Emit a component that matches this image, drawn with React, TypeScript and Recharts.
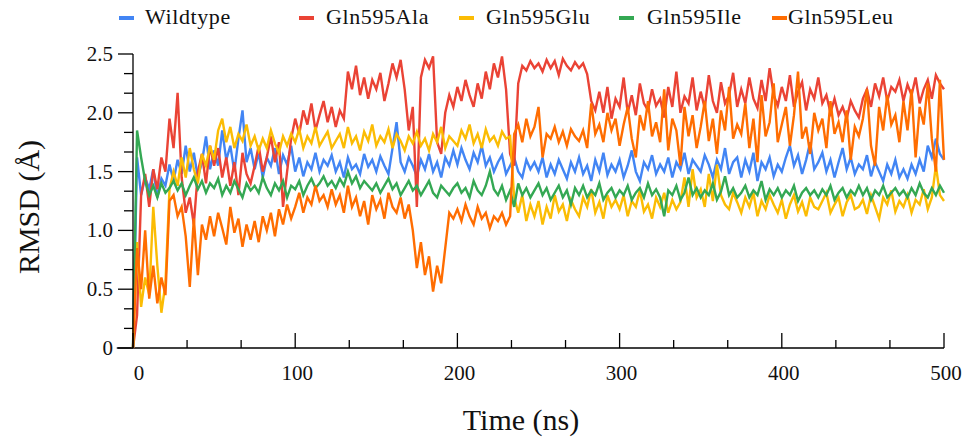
import { LineChart, Line, XAxis, YAxis, Legend, ReferenceLine, Label } from "recharts";

// RMSD (Å) sampled every 2.5 ns, 0–500 ns
const STEP = 2.5;

const wildtype = [
  0, 1.62, 1.3, 1.45, 1.35, 1.52, 1.28, 1.44, 1.38, 1.56,
  1.42, 1.6, 1.48, 1.72, 1.5, 1.66, 1.45, 1.58, 1.8, 1.52,
  1.68, 1.55, 1.85, 1.6, 1.72, 1.5, 1.78, 2.02, 1.58, 1.7,
  1.52, 1.66, 1.45, 1.62, 1.55, 1.7, 1.48, 1.64, 1.56, 1.72,
  1.5, 1.62, 1.46, 1.58, 1.52, 1.66, 1.5, 1.6, 1.55, 1.64,
  1.5, 1.58, 1.45, 1.62, 1.52, 1.56, 1.48, 1.65, 1.54, 1.6,
  1.5, 1.63, 1.55, 1.48, 1.7, 1.92, 1.58, 1.5, 1.62, 1.55,
  1.46, 1.6, 1.52, 1.65, 1.5, 1.58, 1.45, 1.62, 1.55, 1.68,
  1.56, 1.7, 1.6, 1.52, 1.66, 1.58, 1.72, 1.55, 1.62, 1.5,
  1.58, 1.64, 1.48, 1.55, 1.62, 1.5, 1.45, 1.6, 1.52, 1.58,
  1.5, 1.62, 1.45, 1.56, 1.48, 1.6, 1.52, 1.44, 1.58, 1.5,
  1.62, 1.48, 1.55, 1.42, 1.6, 1.5, 1.66, 1.47, 1.56, 1.5,
  1.6, 1.45, 1.55, 1.68, 1.5, 1.42, 1.58, 1.52, 1.64, 1.48,
  1.56, 1.5, 1.62, 1.45, 1.58, 1.52, 1.66, 1.48, 1.6, 1.55,
  1.5, 1.64, 1.56, 1.45, 1.6, 1.52, 1.7, 1.48, 1.58, 1.62,
  1.45, 1.6, 1.5, 1.66, 1.42, 1.58, 1.52, 1.62, 1.46, 1.56,
  1.5, 1.62, 1.72, 1.55, 1.64, 1.48, 1.6, 1.75, 1.52, 1.58,
  1.66, 1.5, 1.6, 1.45, 1.58, 1.7, 1.52, 1.62, 1.48, 1.56,
  1.52, 1.64, 1.46, 1.58, 1.5, 1.42, 1.56, 1.48, 1.6, 1.45,
  1.52, 1.44, 1.56, 1.48, 1.6, 1.5, 1.72, 1.62, 1.78, 1.65,
  1.6,
];

const gln595Ala = [
  0, 0.28, 1.3, 1.48, 1.2, 1.52, 1.35, 1.62, 1.5, 1.95,
  1.7, 2.17, 1.45, 1.15, 1.28, 1.05, 1.5, 1.65, 1.4, 1.72,
  1.55, 1.7, 1.45, 1.62, 1.38, 1.58, 1.3, 1.66, 1.48, 1.4,
  1.55, 1.72, 1.5, 1.62, 1.8, 1.58, 1.75, 1.2, 1.5, 1.78,
  1.95, 1.82, 2.02, 1.9, 2.08, 1.85, 1.98, 2.1, 1.92, 2.05,
  1.88, 2.02, 1.95, 2.35, 2.2, 2.4, 2.15, 2.3, 2.12, 2.28,
  2.2, 2.34, 2.1, 2.25, 2.42, 2.3, 2.45, 2.2, 1.85, 2.05,
  1.2, 2.3, 2.45, 2.38, 2.48, 1.75, 1.65, 2.0, 2.15, 2.05,
  2.22, 2.1, 2.28, 2.15, 2.05, 2.25, 2.12, 2.35, 2.2, 2.42,
  2.3, 2.48, 2.2, 1.65, 1.55, 2.25, 2.4, 2.36, 2.44, 2.38,
  2.42, 2.35, 2.45, 2.38, 2.44, 2.32, 2.46, 2.4, 2.36, 2.43,
  2.38, 2.42, 2.33, 2.1, 2.02, 2.18, 2.0, 2.22, 1.95, 2.12,
  2.05, 2.3, 2.0, 2.15, 1.98, 2.25, 2.08, 2.02, 2.2, 2.06,
  2.12, 1.96, 2.22, 2.05, 2.35, 2.0, 2.14, 2.08, 2.3, 2.02,
  2.18, 2.04, 2.32, 2.1, 2.0, 2.26, 2.08, 2.15, 2.34, 2.05,
  2.2, 2.08, 2.3, 2.12, 2.04, 2.28, 2.1, 2.38, 2.15, 2.06,
  2.22, 2.1, 2.32, 2.05, 2.18, 2.26, 2.02, 2.2, 2.12, 2.3,
  2.08, 2.15, 2.0, 2.12, 1.98, 2.05, 1.95, 2.1, 2.02, 1.96,
  2.12, 2.2, 2.05, 2.25, 2.14, 2.3, 2.1, 2.22, 2.18, 2.28,
  2.1, 2.24, 2.15, 2.3, 2.08, 2.2, 2.28, 2.12, 2.32, 2.25,
  2.2,
];

const gln595Glu = [
  0, 0.9, 0.35, 0.6, 0.45, 1.2, 0.7, 0.3, 0.55, 1.35,
  1.5, 1.38, 1.62, 1.45, 1.7, 1.52, 1.4, 1.65, 1.55, 1.72,
  1.6, 1.85, 1.95, 1.75, 1.88, 1.7, 1.82, 1.76, 1.9, 1.72,
  1.8, 1.68, 1.78, 1.7, 1.85, 1.74, 1.66, 1.8, 1.72, 1.82,
  1.75, 1.86, 1.7, 1.8, 1.74, 1.88, 1.72, 1.78, 1.84, 1.7,
  1.76, 1.82, 1.7, 1.88, 1.74, 1.8, 1.68, 1.84, 1.76, 1.9,
  1.72, 1.8, 1.75, 1.86, 1.7, 1.82, 1.76, 1.68, 1.8, 1.74,
  1.84, 1.72, 1.78, 1.68, 1.82, 1.75, 1.88, 1.7, 1.8, 1.76,
  1.72, 1.85, 1.78, 1.9, 1.74, 1.82, 1.7, 1.86, 1.76, 1.8,
  1.72, 1.84, 1.78, 1.8, 1.28, 1.15, 1.3, 1.08, 1.22, 1.12,
  1.25, 1.05, 1.2, 1.1, 1.3, 1.16, 1.22, 1.08, 1.26, 1.18,
  1.12, 1.28, 1.2, 1.35, 1.15, 1.24, 1.1, 1.3, 1.2, 1.26,
  1.18, 1.3, 1.12, 1.25, 1.2, 1.34, 1.16, 1.22, 1.1, 1.28,
  1.2, 1.32, 1.15, 1.26, 1.18, 1.24, 1.45, 1.2, 1.52, 1.28,
  1.35, 1.2, 1.48, 1.25, 1.56, 1.3, 1.22, 1.18, 1.32, 1.24,
  1.15, 1.28, 1.2, 1.32, 1.12, 1.25, 1.18, 1.3, 1.22, 1.15,
  1.26, 1.1, 1.22, 1.3, 1.16, 1.24, 1.12, 1.28, 1.2, 1.18,
  1.25, 1.32, 1.15, 1.22, 1.28, 1.12, 1.24, 1.3, 1.18, 1.2,
  1.26, 1.14, 1.3, 1.2, 1.1, 1.28, 1.22, 1.34, 1.16, 1.25,
  1.2, 1.3, 1.15, 1.26, 1.22, 1.35, 1.18, 1.28, 1.55, 1.3,
  1.25,
];

const gln595Ile = [
  0, 1.85, 1.62, 1.42, 1.3, 1.38, 1.28, 1.4, 1.32, 1.36,
  1.42, 1.34, 1.4, 1.3, 1.38, 1.45, 1.35, 1.42, 1.32, 1.4,
  1.36, 1.44, 1.3, 1.38, 1.32, 1.42, 1.35, 1.28, 1.4, 1.34,
  1.38, 1.32, 1.45, 1.36, 1.3, 1.4, 1.34, 1.42, 1.28, 1.38,
  1.35, 1.42, 1.3, 1.38, 1.44, 1.36, 1.4, 1.46, 1.38, 1.42,
  1.36, 1.44, 1.38, 1.5, 1.4, 1.46, 1.36, 1.42, 1.38, 1.34,
  1.4, 1.32, 1.38, 1.44, 1.35, 1.4, 1.3, 1.36, 1.42, 1.34,
  1.38, 1.3, 1.36, 1.42, 1.32, 1.28, 1.38, 1.34, 1.3, 1.36,
  1.4, 1.32, 1.36, 1.28, 1.42, 1.34, 1.3, 1.38, 1.5, 1.35,
  1.3, 1.38, 1.26, 1.34, 1.2, 1.4, 1.3, 1.36, 1.28, 1.34,
  1.4, 1.3, 1.36, 1.26, 1.32, 1.38, 1.28, 1.34, 1.22, 1.36,
  1.3, 1.38, 1.28, 1.34, 1.3, 1.4, 1.26, 1.32, 1.36, 1.28,
  1.34, 1.3, 1.38, 1.26, 1.32, 1.36, 1.28, 1.4, 1.3, 1.35,
  1.28, 1.12, 1.34, 1.3, 1.38, 1.26, 1.32, 1.45, 1.3, 1.36,
  1.28, 1.34, 1.3, 1.4, 1.26, 1.33, 1.46, 1.3, 1.36, 1.28,
  1.32, 1.38, 1.28, 1.34, 1.3, 1.42, 1.26, 1.35, 1.3, 1.36,
  1.28, 1.34, 1.3, 1.38, 1.25, 1.32, 1.36, 1.3, 1.34, 1.28,
  1.35, 1.3, 1.38, 1.26, 1.32, 1.36, 1.28, 1.34, 1.3, 1.38,
  1.3, 1.36, 1.26, 1.34, 1.3, 1.38, 1.28, 1.32, 1.36, 1.3,
  1.34, 1.28, 1.36, 1.3, 1.4, 1.32, 1.28, 1.36, 1.3, 1.38,
  1.32,
];

const gln595Leu = [
  0, 0.85, 0.5, 1.0, 0.42, 0.7, 0.38, 0.6, 0.45, 1.25,
  1.3, 1.12, 1.2, 0.95, 0.52, 1.1, 0.62, 1.05, 0.92, 1.12,
  0.95, 1.15, 1.02, 0.88, 1.2, 0.98, 1.1, 0.86, 1.05, 0.92,
  1.08, 0.9, 1.12, 1.0, 1.15, 0.95, 1.18, 1.05, 1.22, 1.1,
  1.2, 1.32, 1.15, 1.28, 1.22, 1.38, 1.25, 1.3, 1.2, 1.35,
  1.22, 1.3, 1.15, 1.38, 1.2, 1.28, 1.12, 1.25, 1.05, 1.3,
  1.18, 1.26, 1.1, 1.32, 1.2, 1.15, 1.28, 1.1, 1.22, 1.0,
  0.68, 0.9, 0.62, 0.78, 0.48, 0.7, 0.55, 0.85, 1.15, 1.1,
  1.18, 1.08, 1.22, 1.12, 1.05, 1.2, 1.1, 1.15, 1.02, 1.12,
  1.08, 1.15, 1.05, 1.12, 1.82, 1.9, 1.75, 1.95, 1.8, 1.88,
  2.05, 1.62, 1.82, 1.78, 1.88, 1.75, 1.84, 1.72, 1.86, 1.8,
  1.76, 1.85, 1.7, 2.08, 1.82, 1.9, 1.75, 2.0, 1.85, 1.95,
  1.72, 1.9, 2.05, 1.78, 1.62, 1.98, 1.85, 2.1, 1.8, 1.92,
  1.75, 2.2, 1.68, 1.95, 1.85, 1.55, 2.05, 1.8, 1.98, 1.7,
  1.88, 2.1, 1.76, 1.95, 1.65, 2.02, 1.85, 2.22, 1.78, 1.9,
  1.82, 2.08, 1.7, 1.95, 1.58, 2.15, 1.8, 1.92, 2.25, 1.75,
  1.9, 2.05, 1.72, 1.98, 2.35, 1.78, 1.88, 1.65, 2.0, 1.85,
  1.95, 1.7, 2.1, 1.82, 1.92, 1.75, 2.02, 1.6, 1.88, 1.8,
  1.95, 2.2, 1.72, 1.55, 2.05, 1.85, 2.15, 1.9, 1.98, 1.75,
  2.1, 1.85, 2.2, 1.62, 2.05, 1.9, 2.25, 1.78, 1.5, 2.28,
  1.6,
];

const times = wildtype.map((_, i) => i * STEP);

const yMajorTicks = [0, 0.5, 1.0, 1.5, 2.0, 2.5];
const xMajorTicks = [0, 100, 200, 300, 400, 500];

const series = [
  { key: "wildtype", name: "Wildtype", color: "#4285F4", values: wildtype },
  { key: "ala", name: "Gln595Ala", color: "#EA4335", values: gln595Ala },
  { key: "glu", name: "Gln595Glu", color: "#FBBC04", values: gln595Glu },
  { key: "ile", name: "Gln595Ile", color: "#34A853", values: gln595Ile },
  { key: "leu", name: "Gln595Leu", color: "#FF6D01", values: gln595Leu },
];

const data = times.map((t, i) => {
  const row: Record<string, number> = { time: t };
  series.forEach((s) => {
    row[s.key] = s.values[i];
  });
  return row;
});

// each major interval split in three minor ticks
const withMinor = (majors: number[]) => {
  const out: number[] = [];
  majors.forEach((m, i) => {
    out.push(m);
    if (i < majors.length - 1) {
      const step = (majors[i + 1] - m) / 3;
      out.push(m + step, m + 2 * step);
    }
  });
  return out;
};

const isMajor = (v: number, majors: number[]) =>
  majors.some((m) => Math.abs(m - v) < 1e-6);

const FONT = "'Liberation Serif', 'Times New Roman', serif";

const YTick = (props: any) => {
  const { x, y, payload } = props;
  const v = payload.value;
  const major = isMajor(v, yMajorTicks);
  return (
    <g>
      <line x1={x - (major ? 15 : 9)} y1={y} x2={x} y2={y} stroke="#000" strokeWidth={1.3} />
      {major && (
        <text x={x - 20} y={y + 7} textAnchor="end" fontFamily={FONT} fontSize={21} fill="#111">
          {v === 0 ? "0" : v.toFixed(1)}
        </text>
      )}
    </g>
  );
};

const XTick = (props: any) => {
  const { x, y, payload } = props;
  const v = payload.value;
  const major = isMajor(v, xMajorTicks);
  return (
    <g>
      <line x1={x} y1={y - (major ? 15 : 8)} x2={x} y2={y} stroke="#000" strokeWidth={1.3} />
      {major && (
        <text x={v === 0 ? x + 6 : x + 2} y={y + 32} textAnchor="middle" fontFamily={FONT} fontSize={21} fill="#111">
          {String(v)}
        </text>
      )}
    </g>
  );
};

const legendX = [
  { dash: 119, text: 145 },
  { dash: 299, text: 326 },
  { dash: 459, text: 486 },
  { dash: 619, text: 647 },
  { dash: 772, text: 788 },
];

const renderLegend = () => (
  <div style={{ position: "relative", width: 964, height: 40 }}>
    {series.map((s, i) => (
      <div key={s.key}>
        <div
          style={{
            position: "absolute",
            left: legendX[i].dash,
            top: 16,
            width: 15,
            height: 4,
            background: s.color,
          }}
        />
        <div
          style={{
            position: "absolute",
            left: legendX[i].text,
            top: 3,
            fontFamily: FONT,
            fontSize: 22,
            lineHeight: "28px",
            color: "#111",
            whiteSpace: "nowrap",
            letterSpacing: 0.6,
          }}
        >
          {s.name}
        </div>
      </div>
    ))}
  </div>
);

export default function App() {
  return (
    <div style={{ position: "absolute", left: 0, top: 0, width: 964, height: 445, background: "#fff" }}>
      <LineChart
        width={964}
        height={445}
        data={data}
        margin={{ top: 54, right: 20, bottom: 57, left: 73 }}
      >
        <XAxis
          dataKey="time"
          type="number"
          domain={[0, 500]}
          ticks={withMinor(xMajorTicks)}
          interval={0}
          axisLine={false}
          tickLine={false}
          tickSize={0}
          tickMargin={0}
          height={40}
          tick={<XTick />}
        >
          <Label
            content={() => (
              <text x={521} y={430} textAnchor="middle" fontFamily={FONT} fontSize={30} fill="#111">
                Time (ns)
              </text>
            )}
          />
        </XAxis>
        <YAxis
          type="number"
          domain={[0, 2.5]}
          ticks={withMinor(yMajorTicks)}
          interval={0}
          width={60}
          axisLine={{ stroke: "#000", strokeWidth: 1.3 }}
          tickLine={false}
          tickSize={0}
          tickMargin={0}
          tick={<YTick />}
        >
          <Label
            content={() => (
              <text
                x={39}
                y={207}
                transform="rotate(-90 39 207)"
                textAnchor="middle"
                fontFamily={FONT}
                fontSize={30}
                fill="#111"
              >
                RMSD (Å)
              </text>
            )}
          />
        </YAxis>
        <ReferenceLine
          segment={[
            { x: -10, y: 0 },
            { x: 500, y: 0 },
          ]}
          stroke="#000"
          strokeWidth={1.3}
          ifOverflow="visible"
        />
        {series.map((s) => (
          <Line
            key={s.key}
            dataKey={s.key}
            name={s.name}
            stroke={s.color}
            strokeWidth={2.4}
            dot={false}
            type="linear"
            isAnimationActive={false}
          />
        ))}
        <Legend
          layout="horizontal"
          verticalAlign="middle"
          align="center"
          wrapperStyle={{ top: 0, left: 0, width: 964 }}
          content={renderLegend}
        />
      </LineChart>
    </div>
  );
}
